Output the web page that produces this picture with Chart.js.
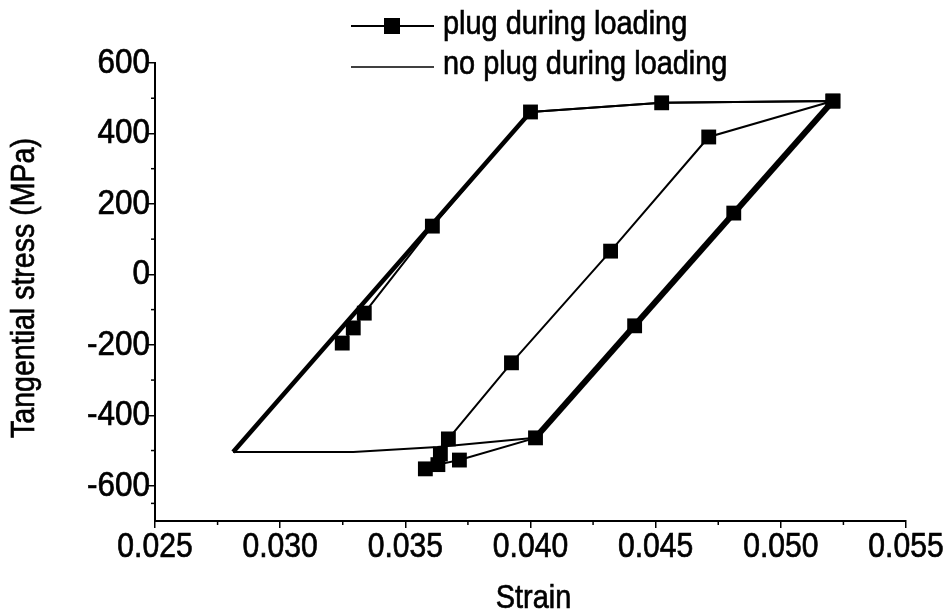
<!DOCTYPE html>
<html>
<head>
<meta charset="utf-8">
<script src="https://cdn.jsdelivr.net/npm/chart.js@4/dist/chart.umd.min.js"></script>
<style>
  html, body { margin: 0; padding: 0; background: #ffffff; }
  #wrap { width: 952px; height: 614px; }
</style>
</head>
<body>
<div id="wrap"><canvas id="c" width="952" height="614"></canvas></div>
<script>
// ---- data ----
const seriesNames = ["plug during loading", "no plug during loading"];
const plugStrain = [0.03248, 0.03292, 0.03336, 0.03608, 0.0400, 0.04524, 0.05208, 0.04812, 0.04416, 0.0402, 0.03716, 0.0363, 0.0358, 0.0364, 0.03672, 0.03924, 0.0432, 0.04712, 0.05208];
const plugStress = [-195, -152, -110, 137, 461, 487, 492, 174, -146, -464, -527, -540, -552, -510, -467, -251, 66, 390, 492];
const noPlugStrain = [0.05208, 0.0402, 0.03628, 0.03292, 0.02812, 0.0400, 0.04524, 0.05208];
const noPlugStress = [492, -464, -490, -504, -504, 461, 487, 492];
const xTicks = [0.025, 0.030, 0.035, 0.040, 0.045, 0.050, 0.055];
const yTicks = [-600, -400, -200, 0, 200, 400, 600];
const xTitle = "Strain";
const yTitle = "Tangential stress (MPa)";

const FONT = '"Liberation Sans", Arial, sans-serif';
Chart.defaults.font.family = FONT;
Chart.defaults.color = '#000';

const zip = (xs, ys) => xs.map((x, i) => ({ x: x, y: ys[i] }));

// thick segments of the "no plug" loop (elastic branches)
const noPlugWidth = ctx => {
  const i = ctx.p0DataIndex;
  if (i === 0) return 6;
  if (i === 4) return 4.5;
  return 2;
};

// draw text narrowed horizontally (Arial Narrow look)
function narrowText(ctx, text, x, y, size, sx, align, rot) {
  ctx.save();
  ctx.translate(x, y);
  if (rot) ctx.rotate(rot);
  ctx.scale(sx, 1);
  ctx.font = size + 'px ' + FONT;
  ctx.textAlign = align;
  ctx.textBaseline = 'alphabetic';
  ctx.fillStyle = '#000';
  ctx.strokeStyle = '#000';
  ctx.lineWidth = 0.7;
  ctx.fillText(text, 0, 0);
  ctx.strokeText(text, 0, 0);
  ctx.restore();
}

const axisText = {
  id: 'axisText',
  afterDraw(chart) {
    const ctx = chart.ctx;
    const xs = chart.scales.x, ys = chart.scales.y;
    const a = chart.chartArea;
    // minor ticks
    ctx.save();
    ctx.strokeStyle = '#000';
    ctx.lineWidth = 1.5;
    for (let i = 0; i < xTicks.length - 1; i++) {
      const px = xs.getPixelForValue((xTicks[i] + xTicks[i + 1]) / 2);
      ctx.beginPath(); ctx.moveTo(px, a.bottom); ctx.lineTo(px, a.bottom + 4); ctx.stroke();
    }
    const yVals = [ys.min].concat(yTicks);
    for (let i = 0; i < yVals.length - 1; i++) {
      const py = ys.getPixelForValue((yVals[i] + yVals[i + 1]) / 2);
      ctx.beginPath(); ctx.moveTo(a.left, py); ctx.lineTo(a.left - 4, py); ctx.stroke();
    }
    ctx.restore();
    // tick labels
    xTicks.forEach(v => {
      narrowText(ctx, v.toFixed(3), xs.getPixelForValue(v), a.bottom + 36, 35, 0.86, 'center');
    });
    yTicks.forEach(v => {
      narrowText(ctx, String(v), a.left - 5, ys.getPixelForValue(v) + 10, 35, 0.9, 'right');
    });
    // axis titles
    narrowText(ctx, xTitle, (a.left + a.right) / 2 + 3, 608, 34, 0.85, 'center');
    narrowText(ctx, yTitle, 34, (a.top + a.bottom) / 2 - 4, 34, 0.84, 'center', -Math.PI / 2);
    // legend
    ctx.save();
    ctx.strokeStyle = '#000';
    ctx.fillStyle = '#000';
    ctx.lineWidth = 2;
    ctx.beginPath(); ctx.moveTo(351, 26); ctx.lineTo(434, 26); ctx.stroke();
    ctx.fillRect(384, 18, 16, 16);
    ctx.lineWidth = 1.5;
    ctx.beginPath(); ctx.moveTo(351, 67); ctx.lineTo(434, 67); ctx.stroke();
    ctx.restore();
    narrowText(ctx, seriesNames[0], 443, 34, 34, 0.85, 'left');
    narrowText(ctx, seriesNames[1], 443, 74, 34, 0.85, 'left');
  }
};

new Chart(document.getElementById('c'), {
  type: 'scatter',
  data: {
    datasets: [
      {
        label: seriesNames[0],
        data: zip(plugStrain, plugStress),
        showLine: true,
        borderColor: '#000',
        backgroundColor: '#000',
        borderWidth: 2,
        pointStyle: 'rect',
        pointRadius: 10.5,
        pointHoverRadius: 10.5,
        pointBorderWidth: 0,
        tension: 0
      },
      {
        label: seriesNames[1],
        data: zip(noPlugStrain, noPlugStress),
        showLine: true,
        borderColor: '#000',
        backgroundColor: '#000',
        borderWidth: 2,
        pointRadius: 0,
        pointHoverRadius: 0,
        tension: 0,
        borderJoinStyle: 'miter',
        segment: { borderWidth: noPlugWidth }
      }
    ]
  },
  options: {
    responsive: false,
    animation: false,
    devicePixelRatio: 1,
    layout: { padding: { top: 63, right: 46, left: 0, bottom: 0 } },
    plugins: { legend: { display: false }, tooltip: { enabled: false } },
    scales: {
      x: {
        type: 'linear',
        min: 0.025, max: 0.055,
        afterBuildTicks: s => { s.ticks = xTicks.map(v => ({ value: v })); },
        afterFit: s => { s.height = 93; },
        ticks: { display: false, autoSkip: false, maxRotation: 0 },
        grid: { display: true, drawOnChartArea: false, drawTicks: true, tickLength: 7, color: '#000', lineWidth: 1.5 },
        border: { display: true, color: '#000', width: 2 },
        title: { display: false }
      },
      y: {
        type: 'linear',
        min: -700, max: 600,
        afterBuildTicks: s => { s.ticks = yTicks.map(v => ({ value: v })); },
        afterFit: s => { s.width = 155; },
        ticks: { display: false, autoSkip: false },
        grid: { display: true, drawOnChartArea: false, drawTicks: true, tickLength: 7, color: '#000', lineWidth: 1.5 },
        border: { display: true, color: '#000', width: 2 },
        title: { display: false }
      }
    }
  },
  plugins: [axisText]
});
</script>
</body>
</html>
